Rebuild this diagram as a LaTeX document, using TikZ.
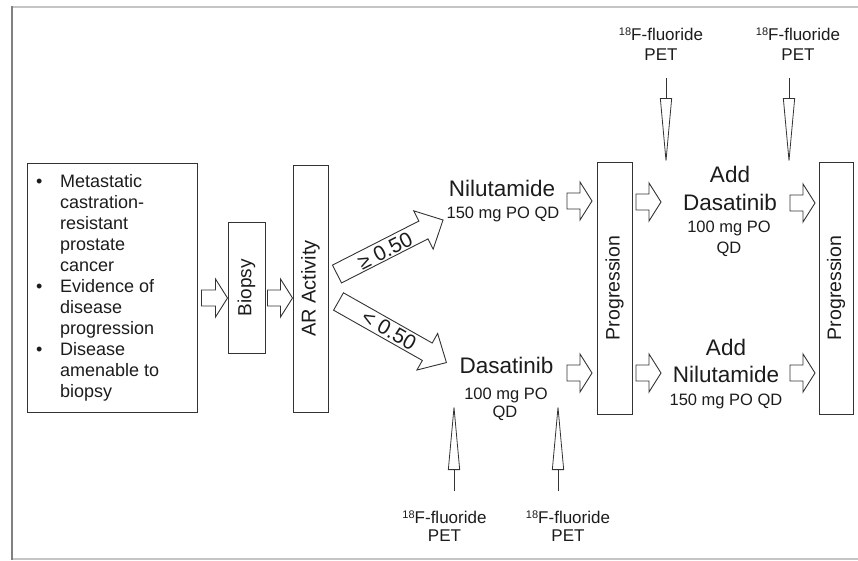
\documentclass[tikz,border=0pt]{standalone}
\usepackage{fontspec}
\setmainfont{Liberation Sans}
\usetikzlibrary{arrows.meta,calc}
\definecolor{ink}{HTML}{1C1C1C}
\definecolor{edge}{HTML}{333333}
\definecolor{frameL}{HTML}{808080}
\definecolor{frameT}{HTML}{C4C4C4}
\newcommand\fs[1]{\fontsize{#1}{#1}\selectfont}
\newcommand\blt{\makebox[24pt][l]{\textbullet}}
\newcommand\ind{\hspace*{24pt}}
\newcommand\eighteen{\raisebox{4.3pt}{\fontsize{11}{11}\selectfont 18}}
\begin{document}
\begin{tikzpicture}[x=1pt,y=-1pt,
  box/.style={draw=edge, line width=1pt, inner sep=0pt, text=ink},
  txt/.style={text=ink, inner sep=0pt},
  drug/.style={txt, anchor=base, font=\fs{22.5}},
  dose/.style={txt, anchor=base, font=\fs{16.5}},
  petlab/.style={txt, anchor=base, font=\fs{17}},
  barrowline/.style={draw=edge, line width=0.9pt, fill=white, line join=miter},
  petarrow/.style={draw=edge, line width=0.8pt, -{Triangle[open,length=67pt,width=12pt]}},
  pics/barrow/.style args={#1/#2/#3/#4}{code={
    \path[barrowline] (0,-#2) -- ({#1-#4},-#2) -- ({#1-#4},-#3) -- (#1,0)
      -- ({#1-#4},#3) -- ({#1-#4},#2) -- (0,#2) -- cycle;}}
]
\useasboundingbox (0,0) rectangle (858,560);
% frame
\draw[frameT, line width=2pt] (11,6.5) -- (858,6.5);
\draw[frameT, line width=2pt] (11,559) -- (858,559);
\draw[frameL, line width=2pt] (11.5,5.5) -- (11.5,560);

% boxes
\node[box, minimum width=170pt, minimum height=249pt] (crit) at (112,287.5) {};
\node[txt, anchor=west, align=left, font=\fontsize{18}{21}\selectfont] (crittext) at (36,287.5)
  {\blt Metastatic\\\ind castration-\\\ind resistant\\\ind prostate\\\ind cancer\\
   \blt Evidence of\\\ind disease\\\ind progression\\
   \blt Disease\\\ind amenable to\\\ind biopsy};
\node[box, minimum width=37pt, minimum height=131pt, font=\fs{19}] (biopsy) at (246.5,287.5) {\rotatebox{90}{Biopsy}};
\node[box, minimum width=35pt, minimum height=247pt, font=\fs{20}] (ar) at (310.5,288.5) {\rotatebox{90}{AR Activity}};
\node[box, minimum width=35pt, minimum height=252pt, font=\fs{19.5}] (prog1) at (614.5,288) {\rotatebox{90}{Progression}};
\node[box, minimum width=34pt, minimum height=252pt, font=\fs{19.5}] (prog2) at (836,288) {\rotatebox{90}{Progression}};

% horizontal block arrows
\pic at ($(crit.east)+(4,10.5)$) {barrow=26/8/19/12};
\pic at ($(biopsy.east)+(2,10.5)$) {barrow=25/8/19/12};
\pic at (567,201) {barrow=25/8/19/12};
\pic at (567,373) {barrow=25/8/19/12};
\pic at (636,202) {barrow=25/8/19/12};
\pic at (636,373) {barrow=25/8/19/12};
\pic at (790,203) {barrow=25/8/19/12};
\pic at (790,373) {barrow=25/8/19/12};

% diagonal block arrows
\pic[rotate=27] at (337,274) {barrow=119/10/21.5/22};
\pic[rotate=-29.5] at (338.5,301.5) {barrow=124/10/21/22};
\node[txt, rotate=27, font=\fs{21}] (ge) at (385,251) {≥ 0.50};
\node[txt, rotate=-29.5, font=\fs{21}] (lt) at (389,330) {< 0.50};

% drug labels
\node[drug] (nil) at (502,196) {Nilutamide};
\node[dose] (nildose) at (503,218.5) {150 mg PO QD};
\node[drug] (das) at (506.5,373.5) {Dasatinib};
\node[dose] (dasdose) at (506,399.5) {100 mg PO};
\node[dose] (dasqd) at (505,417) {QD};

\node[drug] (add1) at (730,182) {Add};
\node[drug] (adddas) at (730,210) {Dasatinib};
\node[dose] (adddasdose) at (729,232) {100 mg PO};
\node[dose] (adddasqd) at (729,253) {QD};

\node[drug] (add2) at (726,355) {Add};
\node[drug] (addnil) at (726,382) {Nilutamide};
\node[dose] (addnildose) at (726,405) {150 mg PO QD};

% PET labels
\node[petlab] (pa1) at (661,40) {\eighteen F-fluoride};
\node[petlab] (pa2) at (661,60) {PET};
\node[petlab] (pb1) at (798,40) {\eighteen F-fluoride};
\node[petlab] (pb2) at (798,60) {PET};
\node[petlab] (pc1) at (444.5,523) {\eighteen F-fluoride};
\node[petlab] (pc2) at (444.5,541.5) {PET};
\node[petlab] (pd1) at (568,523) {\eighteen F-fluoride};
\node[petlab] (pd2) at (568,541.5) {PET};

% PET arrows
\coordinate (ta1) at (666,78);  \coordinate (ta2) at (666,165);
\coordinate (tb1) at (789,78);  \coordinate (tb2) at (789,165);
\coordinate (bc1) at (454,491); \coordinate (bc2) at (454,403);
\coordinate (bd1) at (558,491); \coordinate (bd2) at (558,403);
\draw[petarrow] (ta1) -- (ta2);
\draw[petarrow] (tb1) -- (tb2);
\draw[petarrow] (bc1) -- (bc2);
\draw[petarrow] (bd1) -- (bd2);
\end{tikzpicture}
\end{document}
